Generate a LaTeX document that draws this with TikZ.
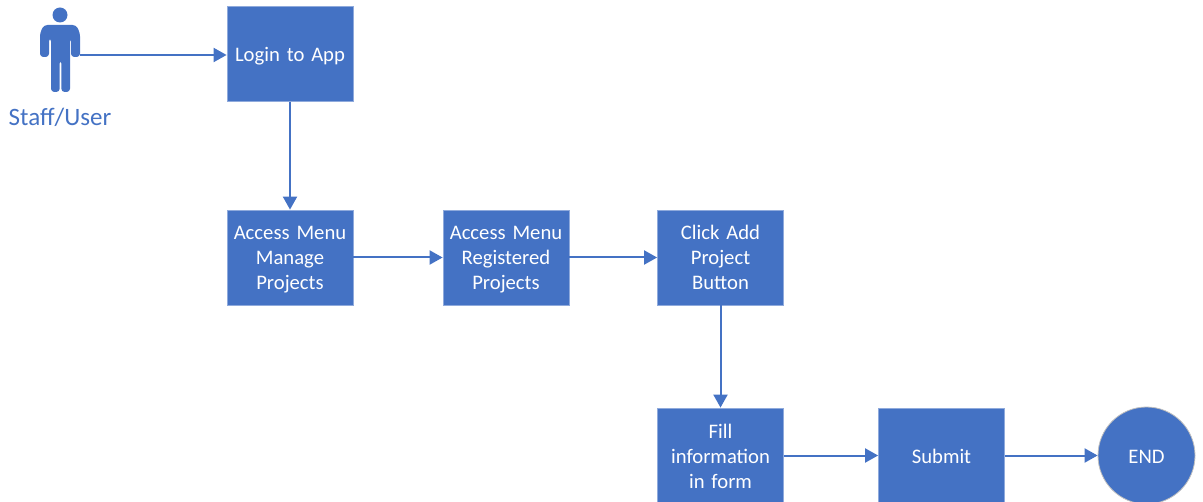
\documentclass[tikz,border=0pt]{standalone}
\usepackage{fontspec}
\setmainfont{Carlito}
\usetikzlibrary{arrows.meta}
\definecolor{flowblue}{HTML}{4472C4}
\definecolor{edgeblue}{HTML}{8FAADC}
\newcommand\topstrut{\rule[-0.3\baselineskip]{0pt}{1.2\baselineskip}}
\begin{document}
\begin{tikzpicture}[x=0.75pt,y=-0.75pt,
  stepbox/.style={rectangle,fill=flowblue,draw=edgeblue,line width=0.6pt,
    minimum width=94.5pt,minimum height=71.25pt,inner sep=2pt,
    text=white,align=center,font=\fontsize{15.5}{18.75}\selectfont,text width=88pt,
    execute at begin node=\topstrut,execute at end node=\strut},
  endcircle/.style={circle,fill=flowblue,draw=gray!50,line width=0.6pt,
    minimum size=72.75pt,inner sep=0pt,text=white,font=\fontsize{15.5}{18.75}\selectfont,
    execute at begin node=\topstrut},
  conn/.style={draw=flowblue,line width=1.5pt,-{Triangle[length=9.75pt,width=10.5pt]}}]
\useasboundingbox (0,0) rectangle (1203,502);
% actor
\fill[flowblue] (60,15) circle (7.5);
\fill[flowblue,rounded corners=2.5pt] (40,57) -- (40,33) -- (44,25) -- (76,25) -- (80,33) -- (80,57)
  -- (71,57) -- (71,38) -- (70,38) -- (70,92) -- (61.3,92) -- (61.3,60) -- (59.7,60) -- (59.7,92)
  -- (51,92) -- (51,38) -- (49,38) -- (49,57) -- cycle;
\coordinate (hand) at (80,55);
\node[text=flowblue,font=\fontsize{18.75}{22}\selectfont] (actorlabel) at (60,117) {Staff/User};
% boxes
\node[stepbox] (login) at (290,54) {Login to App};
\node[stepbox] (manage) at (290,257.5) {Access Menu\\Manage\\Projects};
\node[stepbox] (registered) at (506,257.5) {Access Menu\\Registered\\Projects};
\node[stepbox] (addbtn) at (720.5,257.5) {Click Add\\Project\\Button};
\node[stepbox] (fill) at (720.5,455.5) {Fill\\information\\in form};
\node[stepbox] (submit) at (941.5,455.5) {Submit};
\node[endcircle] (end) at (1146.5,455.5) {END};
% connectors
\draw[conn] (hand) -- (login.west |- hand);
\draw[conn] (login) -- (manage);
\draw[conn] (manage) -- (registered);
\draw[conn] (registered) -- (addbtn);
\draw[conn] (addbtn) -- (fill);
\draw[conn] (fill) -- (submit);
\draw[conn] (submit) -- (end);
\end{tikzpicture}
\end{document}
